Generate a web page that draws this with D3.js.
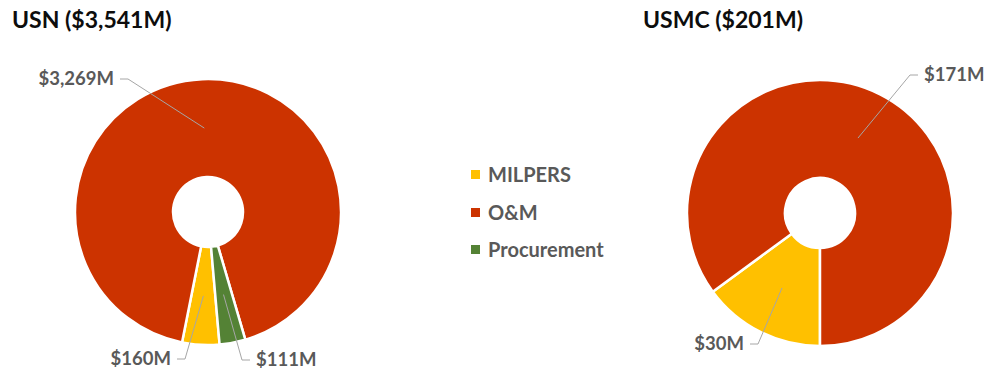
<!DOCTYPE html>
<html>
<head>
<meta charset="utf-8">
<script src="https://cdnjs.cloudflare.com/ajax/libs/d3/7.8.5/d3.min.js"></script>
<style>
  body { margin: 0; background: #fff; }
  text { font-family: Lato, "Open Sans", sans-serif; font-weight: bold; }
</style>
</head>
<body>
<main></main>
<script>
// Datos
const categorias = ['MILPERS', 'O&M', 'Procurement'];
const colores = ['#FFC000', '#CC3300', '#548235'];

const usnValores = [160, 3269, 111];
const usmcValores = [30, 171, 0];

const titulos = ['USN ($3,541M)', 'USMC ($201M)'];
const etiquetasUsn = ['$160M', '$3,269M', '$111M'];
const etiquetasUsmc = ['$30M', '$171M', ''];

// Dimensiones
const [w, h] = [989, 373];
const rExt = 133, rInt = 35;

const svg = d3.select('main')
    .append('svg')
    .attr('width', w)
    .attr('height', h);

// Cada donut: centro, angulo inicial y posicion de los codos de las etiquetas (relativos al centro)
const graficos = [
    { titulo: titulos[0], valores: usnValores, etiquetas: etiquetasUsn, cx: 208, cy: 212, inicio: 175,
      tx: 12, codos: [[-23, 147, 'end'], [-80, -133, 'end'], [34, 148, 'start']] },
    { titulo: titulos[1], valores: usmcValores, etiquetas: etiquetasUsmc, cx: 820, cy: 213, inicio: 180,
      tx: 643, codos: [[-62, 131, 'end'], [90, -138, 'start'], null] }
];

const arco = d3.arc().innerRadius(rInt).outerRadius(rExt);

graficos.forEach(g => {
    svg.append('text')
        .attr('x', g.tx)
        .attr('y', 28)
        .attr('fill', '#0d0d0d')
        .style('font-size', '23px')
        .text(g.titulo);

    const ini = g.inicio * Math.PI / 180;
    const pie = d3.pie().sort(null).startAngle(ini).endAngle(ini + 2 * Math.PI);
    const datos = pie(g.valores).map((d, i) => Object.assign(d, { i: i }));

    const grupo = svg.append('g')
        .attr('transform', 'translate(' + g.cx + ',' + g.cy + ')');

    grupo.selectAll('path')
        .data(datos.filter(d => d.value > 0))
        .enter()
        .append('path')
        .attr('d', arco)
        .attr('fill', d => colores[d.i])
        .attr('stroke', '#fff')
        .attr('stroke-width', 2.5);

    // Etiquetas con lineas guia
    datos.filter(d => d.value > 0).forEach(d => {
        const codo = g.codos[d.i];
        const [px, py] = arco.centroid(d);
        const dir = codo[2] === 'end' ? -1 : 1;
        const finX = codo[0] + dir * 8;

        grupo.append('polyline')
            .attr('points', [[px, py], [codo[0], codo[1]], [finX, codo[1]]].map(p => p.join(',')).join(' '))
            .attr('fill', 'none')
            .attr('stroke', '#a6a6a6')
            .attr('stroke-width', 1);

        grupo.append('text')
            .attr('x', finX + dir * 6)
            .attr('y', codo[1] + 6)
            .attr('text-anchor', codo[2])
            .attr('fill', '#595959')
            .style('font-size', '18.5px')
            .text(g.etiquetas[d.i]);
    });
});

// Leyenda
const leyendaY = [175, 213, 250];
categorias.forEach((c, i) => {
    svg.append('rect')
        .attr('x', 471)
        .attr('y', leyendaY[i] - 5)
        .attr('width', 9)
        .attr('height', 9)
        .attr('fill', colores[i]);

    svg.append('text')
        .attr('x', 488)
        .attr('y', leyendaY[i] + 7)
        .attr('fill', '#595959')
        .style('font-size', '20px')
        .text(c);
});
</script>
</body>
</html>
